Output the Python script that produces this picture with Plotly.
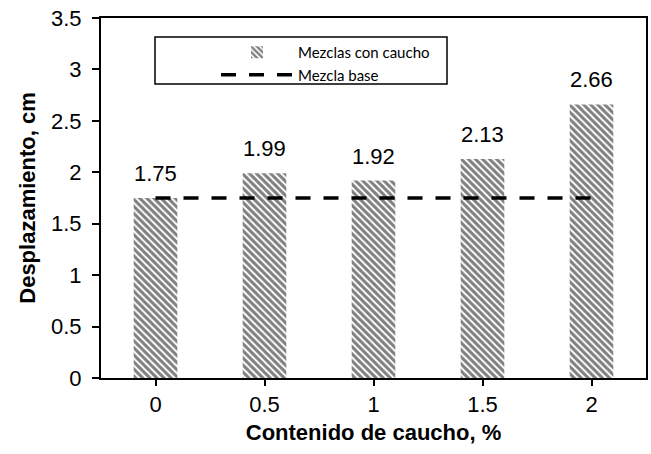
import plotly.graph_objects as go

categories = ["0", "0.5", "1", "1.5", "2"]
mezclas_caucho = [1.75, 1.99, 1.92, 2.13, 2.66]
mezcla_base = 1.75
y_ticks = [0, 0.5, 1, 1.5, 2, 2.5, 3, 3.5]

FONT = "Liberation Sans, Arial"

fig = go.Figure()
fig.add_trace(go.Bar(
    x=categories, y=mezclas_caucho, name="Mezclas con caucho",
    width=0.4,
    marker=dict(color="white", line=dict(width=0),
                pattern=dict(shape="\\", fgcolor="black", bgcolor="white", size=5, solidity=0.6)),
))
fig.add_trace(go.Scatter(
    x=categories, y=[mezcla_base] * len(categories), name="Mezcla base",
    mode="lines", line=dict(color="black", width=3.5, dash="15px,13px"),
))

for i, v in enumerate(mezclas_caucho):
    fig.add_annotation(x=i, y=v, text=f"{v:.2f}", showarrow=False,
                       yanchor="bottom", yshift=10,
                       font=dict(family=FONT, size=22, color="black"))

# legend frame
fig.add_shape(type="rect", xref="paper", yref="paper",
              x0=(155 - 101) / 545, x1=(447 - 101) / 545,
              y0=(378 - 84) / 360, y1=(378 - 37) / 360,
              line=dict(color="black", width=1.5), fillcolor="rgba(0,0,0,0)", layer="above")

fig.update_layout(
    width=651, height=454,
    margin=dict(l=101, r=5, t=18, b=76),
    plot_bgcolor="white", paper_bgcolor="white",
    font=dict(family=FONT, size=22, color="black"),
    showlegend=True,
    legend=dict(x=(216 - 101) / 545, y=(378 - 36) / 360, xanchor="left", yanchor="top",
                borderwidth=0, bgcolor="rgba(0,0,0,0)",
                font=dict(family="Lato, Carlito, Calibri", size=15),
                itemwidth=72, tracegroupgap=0),
)
fig.update_xaxes(
    type="category", showline=True, linecolor="black", linewidth=2, mirror=True,
    ticks="outside", ticklen=6, tickcolor="black", tickwidth=1.5, automargin=False,
    title=dict(text="<b>Contenido de caucho, %</b>", font=dict(size=22), standoff=8),
    showgrid=False, tickfont=dict(size=22),
)
fig.update_yaxes(
    range=[0, 3.5], tickvals=y_ticks, ticktext=[f"{v:g}" for v in y_ticks],
    showline=True, linecolor="black", linewidth=2, mirror=True,
    ticks="outside", ticklen=7, tickcolor="black", tickwidth=1.5,
    ticklabelstandoff=6, ticklabeloverflow="allow", automargin=False,
    title=dict(text="<b>Desplazamiento, cm</b>", font=dict(size=22), standoff=9),
    showgrid=False, zeroline=False, tickfont=dict(size=22),
)

fig.write_html("out.html", config={"displayModeBar": False},
               post_script="document.body.style.margin='0';")
